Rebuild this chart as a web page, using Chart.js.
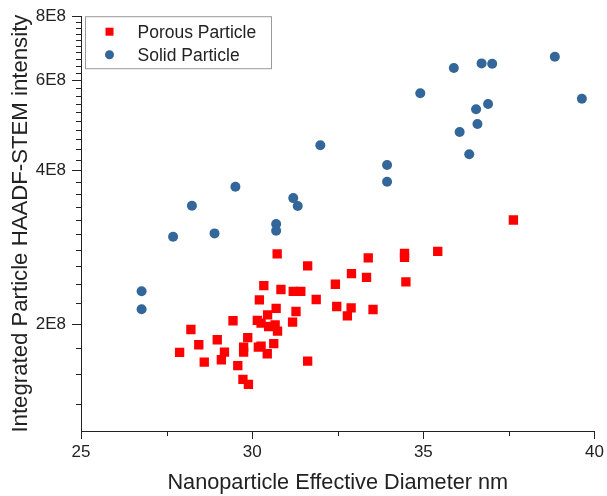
<!DOCTYPE html>
<html>
<head>
<meta charset="utf-8">
<title>Particle intensity vs diameter</title>
<script src="https://cdn.jsdelivr.net/npm/chart.js"></script>
<style>
  html, body { margin: 0; padding: 0; background: #fff; }
  canvas { display: block; }
</style>
</head>
<body>
<canvas id="scatter" width="607" height="496"></canvas>
<script>
// effective diameter (nm) and integrated HAADF-STEM intensity per particle
const porousDiameter = [
  30.73, 31.62, 30.34, 30.84, 31.20, 31.42, 31.87, 30.21, 30.70, 31.28,
  29.44, 30.15, 30.26, 30.45, 30.48, 30.67, 30.74, 31.18, 28.21, 29.87,
  28.98, 28.44, 30.63, 30.26, 30.18, 29.75, 29.75, 27.88, 29.19, 30.44,
  29.10, 28.60, 31.62, 29.58, 29.73, 29.89, 37.63, 35.42, 34.45, 34.45,
  33.39, 32.90, 33.34, 34.49, 32.43, 32.47, 32.89, 32.78, 33.53
];
const porousIntensity = [
  2.748e8, 2.604e8, 2.384e8, 2.342e8, 2.323e8, 2.323e8, 2.239e8, 2.236e8, 2.151e8, 2.122e8,
  2.035e8, 2.038e8, 2.013e8, 2.090e8, 1.983e8, 1.998e8, 1.942e8, 2.022e8, 1.957e8, 1.886e8,
  1.869e8, 1.827e8, 1.836e8, 1.816e8, 1.808e8, 1.808e8, 1.768e8, 1.766e8, 1.768e8, 1.755e8,
  1.708e8, 1.690e8, 1.698e8, 1.663e8, 1.564e8, 1.529e8, 3.201e8, 2.780e8, 2.755e8, 2.706e8,
  2.699e8, 2.515e8, 2.474e8, 2.423e8, 2.398e8, 2.170e8, 2.157e8, 2.081e8, 2.141e8
];
const solidDiameter = [
  26.77, 26.77, 27.69, 28.24, 28.90, 29.51, 30.70, 30.70, 31.20, 31.33,
  31.99, 33.94, 33.94, 34.91, 35.89, 36.06, 36.34, 36.54, 36.58, 36.70,
  36.89, 37.01, 38.84, 39.63
];
const solidIntensity = [
  2.323e8, 2.143e8, 2.970e8, 3.413e8, 3.014e8, 3.716e8, 3.143e8, 3.050e8, 3.532e8, 3.408e8,
  4.480e8, 4.100e8, 3.800e8, 5.657e8, 6.336e8, 4.755e8, 4.302e8, 5.265e8, 4.929e8, 6.471e8,
  5.392e8, 6.459e8, 6.666e8, 5.520e8
];

const seriesLabels = ['Porous Particle', 'Solid Particle'];
const xTicks = [25, 30, 35, 40];
const xMinorTicks = [27.5, 32.5, 37.5];
const yTicks = [2e8, 4e8, 6e8, 8e8];
// minor ticks every 0.2E8 on the intensity axis
const yMinorTicks = [];
for (let k = 7; k < 40; k++) {
  if (k % 10 !== 0) yMinorTicks.push(k * 0.2e8);
}

const FONT = "'Liberation Sans', Arial, Helvetica, sans-serif";
const AXIS = '#222';

function points(xs, ys) {
  return xs.map((x, i) => ({ x: x, y: ys[i] }));
}

// short outward marks for the minor ticks
const minorTicks = {
  id: 'minorTicks',
  afterDraw(chart) {
    const { ctx, chartArea, scales } = chart;
    ctx.save();
    ctx.strokeStyle = AXIS;
    ctx.lineWidth = 1;
    ctx.beginPath();
    xMinorTicks.forEach(v => {
      const px = Math.round(scales.x.getPixelForValue(v)) + 0.5;
      ctx.moveTo(px, chartArea.bottom);
      ctx.lineTo(px, chartArea.bottom + 5);
    });
    yMinorTicks.forEach(v => {
      if (v < scales.y.min || v > scales.y.max) return;
      const py = Math.round(scales.y.getPixelForValue(v)) + 0.5;
      ctx.moveTo(chartArea.left - 5, py);
      ctx.lineTo(chartArea.left, py);
    });
    ctx.stroke();
    ctx.restore();
  }
};

// boxed legend in the upper left corner of the plot
const boxLegend = {
  id: 'boxLegend',
  afterDraw(chart) {
    const { ctx, chartArea } = chart;
    const left = chartArea.left + 4.5, top = chartArea.top + 0.5;
    const w = 186, h = 52;
    ctx.save();
    ctx.fillStyle = '#fff';
    ctx.fillRect(left, top, w, h);
    ctx.strokeStyle = '#9a9a9a';
    ctx.lineWidth = 1;
    ctx.strokeRect(left, top, w, h);
    ctx.font = '17.5px ' + FONT;
    ctx.textBaseline = 'middle';
    chart.data.datasets.forEach((ds, i) => {
      const cy = top + 15 + i * 23;
      const cx = left + 24;
      ctx.fillStyle = ds.backgroundColor;
      if (ds.pointStyle === 'rect') {
        ctx.fillRect(cx - 4, cy - 4, 8, 8);
      } else {
        ctx.beginPath();
        ctx.arc(cx, cy, 4.5, 0, Math.PI * 2);
        ctx.fill();
      }
      ctx.fillStyle = '#222';
      ctx.fillText(ds.label, left + 52, cy + 1);
    });
    ctx.restore();
  }
};

new Chart(document.getElementById('scatter'), {
  type: 'scatter',
  data: {
    datasets: [
      {
        label: seriesLabels[0],
        data: points(porousDiameter, porousIntensity),
        pointStyle: 'rect',
        pointRadius: 6.6,
        backgroundColor: '#ff0000',
        borderWidth: 0
      },
      {
        label: seriesLabels[1],
        data: points(solidDiameter, solidIntensity),
        pointStyle: 'circle',
        pointRadius: 5,
        backgroundColor: '#336699',
        borderWidth: 0
      }
    ]
  },
  options: {
    responsive: false,
    animation: false,
    layout: { padding: { top: 15, right: 9, bottom: 0, left: 0 } },
    plugins: {
      legend: { display: false },
      tooltip: { enabled: false }
    },
    scales: {
      x: {
        type: 'linear',
        min: 25,
        max: 40,
        afterBuildTicks: s => { s.ticks = xTicks.map(v => ({ value: v })); },
        afterFit: s => { s.height = 65; },
        grid: { drawOnChartArea: false, tickLength: 8, color: AXIS },
        border: { color: AXIS },
        ticks: { color: '#222', padding: 3, font: { family: FONT, size: 17 } },
        title: {
          display: true,
          text: 'Nanoparticle Effective Diameter nm',
          color: '#222',
          padding: { top: 0, bottom: 0 },
          font: { family: FONT, size: 21.7, lineHeight: 1.2 }
        }
      },
      y: {
        type: 'logarithmic',
        min: 1.24e8,
        max: 8e8,
        afterBuildTicks: s => { s.ticks = yTicks.map(v => ({ value: v })); },
        afterFit: s => { s.width = 81; },
        grid: { drawOnChartArea: false, tickLength: 9, color: AXIS },
        border: { color: AXIS },
        ticks: {
          color: '#222',
          padding: 6,
          font: { family: FONT, size: 17 },
          callback: v => (v / 1e8) + 'E8'
        },
        title: {
          display: true,
          text: 'Integrated Particle HAADF-STEM intensity',
          color: '#222',
          padding: { top: 8, bottom: 0 },
          font: { family: FONT, size: 22.2, lineHeight: 1.2 }
        }
      }
    }
  },
  plugins: [minorTicks, boxLegend]
});
</script>
</body>
</html>
